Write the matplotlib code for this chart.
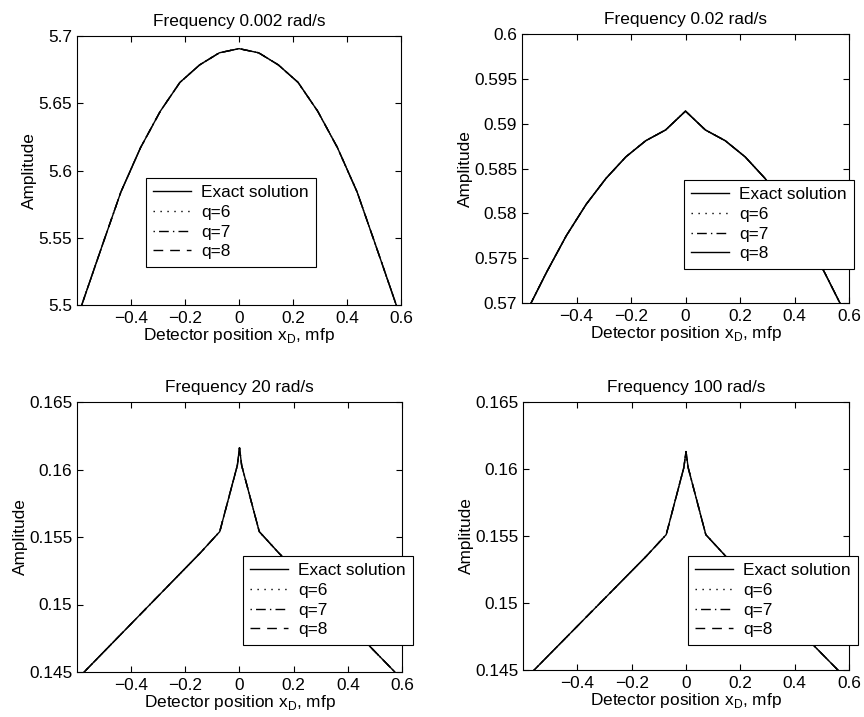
import matplotlib
matplotlib.use('Agg')
import matplotlib.pyplot as plt

plt.rcParams['font.family'] = ['Liberation Sans', 'DejaVu Sans']
plt.rcParams['font.size'] = 12.4
plt.rcParams['axes.unicode_minus'] = True

# detector positions (mfp)
x_coarse = [-0.5833, -0.5104, -0.4375, -0.3646, -0.2917, -0.2188, -0.1458, -0.0729, 0.0,
            0.0729, 0.1458, 0.2188, 0.2917, 0.3646, 0.4375, 0.5104, 0.5833]
x_fine = [-0.5833, -0.5104, -0.4375, -0.3646, -0.2917, -0.2188, -0.1458, -0.0729, -0.008, 0.0,
          0.008, 0.0729, 0.1458, 0.2188, 0.2917, 0.3646, 0.4375, 0.5104, 0.5833]

# amplitudes
amp_0002 = [5.4995, 5.5420, 5.5840, 5.6170, 5.6440, 5.6655, 5.6785, 5.6875, 5.6906,
            5.6875, 5.6785, 5.6655, 5.6440, 5.6170, 5.5840, 5.5420, 5.4995]
amp_002 = [0.5690, 0.5734, 0.5775, 0.5810, 0.5839, 0.5863, 0.5881, 0.5893, 0.5914,
           0.5893, 0.5881, 0.5863, 0.5839, 0.5810, 0.5775, 0.5734, 0.5690]
amp_20 = [0.1448, 0.1463, 0.1478, 0.1493, 0.1508, 0.1523, 0.1538, 0.1554, 0.1603, 0.1616,
          0.1603, 0.1554, 0.1538, 0.1523, 0.1508, 0.1493, 0.1478, 0.1463, 0.1448]
amp_100 = [0.1445, 0.1460, 0.1475, 0.1490, 0.1505, 0.1520, 0.1535, 0.1551, 0.1601, 0.1613,
           0.1601, 0.1551, 0.1535, 0.1520, 0.1505, 0.1490, 0.1475, 0.1460, 0.1445]

titles = ['Frequency 0.002 rad/s', 'Frequency 0.02 rad/s', 'Frequency 20 rad/s', 'Frequency 100 rad/s']
xs = [x_coarse, x_coarse, x_fine, x_fine]
amps = [amp_0002, amp_002, amp_20, amp_100]
ylims = [(5.5, 5.7), (0.57, 0.6), (0.145, 0.165), (0.145, 0.165)]
yticks = [[5.5, 5.55, 5.6, 5.65, 5.7],
          [0.57, 0.575, 0.58, 0.585, 0.59, 0.595, 0.6],
          [0.145, 0.15, 0.155, 0.16, 0.165],
          [0.145, 0.15, 0.155, 0.16, 0.165]]
ytick_labels = [['5.5', '5.55', '5.6', '5.65', '5.7'],
                ['0.57', '0.575', '0.58', '0.585', '0.59', '0.595', '0.6'],
                ['0.145', '0.15', '0.155', '0.16', '0.165'],
                ['0.145', '0.15', '0.155', '0.16', '0.165']]
xticks = [-0.4, -0.2, 0, 0.2, 0.4, 0.6]
xtick_labels = ['\u22120.4', '\u22120.2', '0', '0.2', '0.4', '0.6']
labels = ['Exact solution', 'q=6', 'q=7', 'q=8']
# matlab-like line styles: solid, dotted, dash-dot, dashed
styles = ['-', (0, (1, 4)), (0, (1, 3, 7, 3)), (0, (7, 5))]

W, H = 864, 717
# axes boxes in pixels: left, right, top, bottom
boxes = [(77, 401, 36, 305), (522, 849, 34, 303), (77, 402, 402, 672), (523, 849, 402, 670)]
# legend top-left corners in pixels
leg_pos = [(146, 178), (684, 180), (243, 556), (688, 556)]

fig = plt.figure(figsize=(W / 100, H / 100), dpi=100)

for i in range(4):
    l, r, t, b = boxes[i]
    ax = fig.add_axes([l / W, 1 - b / H, (r - l) / W, (b - t) / H])
    st = list(styles)
    if i == 1:
        st[3] = '-'   # q=8 shows solid in this panel
    for lab, ls in zip(labels, st):
        ax.plot(xs[i], amps[i], color='black', lw=1.0, ls=ls, label=lab)
    ax.set_xlim(-0.6, 0.6)
    ax.set_ylim(*ylims[i])
    ax.set_xticks(xticks)
    ax.set_xticklabels(xtick_labels)
    ax.set_yticks(yticks[i])
    ax.set_yticklabels(ytick_labels[i])
    ax.tick_params(direction='in', top=True, right=True, length=4, width=0.8)
    ax.tick_params(axis='x', pad=4)
    ax.tick_params(axis='y', pad=3.5)
    for s in ax.spines.values():
        s.set_linewidth(0.8)
    ax.set_title(titles[i], fontsize=12.4, pad=7)
    ax.set_ylabel('Amplitude', labelpad=1)
    ax.set_xlabel(r'Detector position x$_{\mathregular{D}}$, mfp', labelpad=0)
    lx, ly = leg_pos[i]
    ax.legend(loc='upper left', bbox_to_anchor=(lx / W, 1 - ly / H),
              bbox_transform=fig.transFigure, borderaxespad=0, fancybox=False,
              edgecolor='black', framealpha=1, fontsize=12.4, handlelength=2.2,
              handletextpad=0.6, labelspacing=0.27, borderpad=0.42)
    ax.get_legend().get_frame().set_linewidth(0.8)

fig.savefig('out.png', dpi=100)
